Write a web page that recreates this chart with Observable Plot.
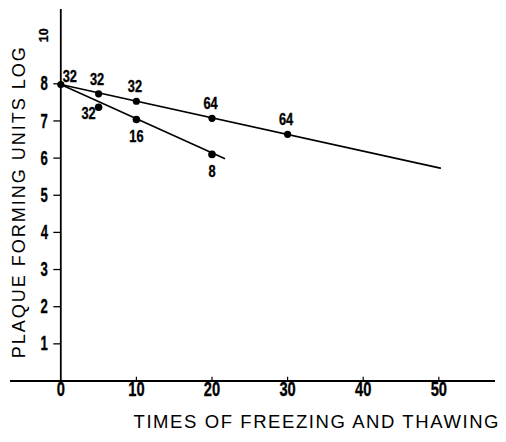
<!DOCTYPE html>
<html><head><meta charset="utf-8">
<script src="https://cdn.jsdelivr.net/npm/d3@7"></script>
<script src="https://cdn.jsdelivr.net/npm/@observablehq/plot@0.6"></script>
<style>html,body{margin:0;padding:0;background:#fff}</style>
</head><body><div id="chart"></div>
<script>
const xTicks = [0, 10, 20, 30, 40, 50];
const yTicks = [1, 2, 3, 4, 5, 6, 7, 8];
const upperTimes = [0, 5, 10, 20, 30];
const upperLog = [7.98, 7.73, 7.53, 7.07, 6.64];
const upperTiter = ["32", "32", "32", "64", "64"];
const lowerTimes = [5, 10, 20];
const lowerLog = [7.37, 7.04, 6.10];
const lowerTiter = ["32", "16", "8"];
const upperLineTimes = [0, 50.2];
const upperLineLog = [7.98, 5.73];
const lowerLineTimes = [0, 21.65];
const lowerLineLog = [7.98, 5.99];
const xTitle = "TIMES OF FREEZING AND THAWING";
const yTitle = "PLAQUE FORMING UNITS LOG";
const ySub = "10";
const xExtent = [-6.65, 57.5];
const yExtent = [0, 10];

const upper = upperTimes.map((t, i) => ({t, v: upperLog[i], lab: upperTiter[i]}));
const lower = lowerTimes.map((t, i) => ({t, v: lowerLog[i], lab: lowerTiter[i]}));
const upperLine = upperLineTimes.map((t, i) => ({t, v: upperLineLog[i]}));
const lowerLine = lowerLineTimes.map((t, i) => ({t, v: lowerLineLog[i]}));

const font = "'Liberation Sans', Arial, sans-serif";
const heavy = {fontWeight: "bold", fontFamily: font, fill: "#000", stroke: "#000", strokeWidth: 0.35};
const lab = {fontSize: 16, ...heavy};

const svg = Plot.plot({
  width: 506, height: 442,
  marginLeft: 60.3, marginRight: 11, marginTop: 9, marginBottom: 61.5,
  style: {background: "#fff", color: "#000", overflow: "visible", fontFamily: font},
  x: {domain: [0, xExtent[1]], axis: null},
  y: {domain: yExtent, axis: null},
  marks: [
    Plot.ruleY([0], {x1: xExtent[0], x2: xExtent[1], stroke: "#000", strokeWidth: 1.8}),
    Plot.ruleX([0], {y1: -0.06, y2: yExtent[1], stroke: "#000", strokeWidth: 1.8}),
    Plot.axisY({ticks: yTicks, tickFormat: () => "", tickSize: 7, tickPadding: 6, label: null, strokeWidth: 1.3}),
    Plot.text(yTicks, {y: d => d, frameAnchor: "left", textAnchor: "end", dx: -13,
      text: d => String(d), fontSize: 20.5, ...heavy}),
    Plot.text(xTicks, {x: d => d, frameAnchor: "bottom", lineAnchor: "top", dy: 0.5,
      text: d => String(d), fontSize: 21, ...heavy}),
    Plot.ruleX(xTicks.filter(d => d > 0), {y1: 0, y2: 0.1, stroke: "#000", strokeWidth: 1.2}),
    Plot.line(upperLine, {x: "t", y: "v", stroke: "#000", strokeWidth: 1.6}),
    Plot.line(lowerLine, {x: "t", y: "v", stroke: "#000", strokeWidth: 1.6}),
    Plot.dot(upper, {x: "t", y: "v", r: 3.6, fill: "#000", stroke: "none"}),
    Plot.dot(lower, {x: "t", y: "v", r: 3.8, fill: "#000", stroke: "none"}),
    Plot.text(upper, {filter: (d, i) => i === 0, x: "t", y: "v", text: "lab", dx: 9, dy: -8, ...lab}),
    Plot.text(upper, {filter: (d, i) => i > 0, x: "t", y: "v", text: "lab", dx: -1.5, dy: -14, ...lab}),
    Plot.text(lower, {filter: (d, i) => i === 0, x: "t", y: "v", text: "lab", dx: -10, dy: 7, ...lab}),
    Plot.text(lower, {filter: (d, i) => i > 0, x: "t", y: "v", text: "lab", dy: 17, ...lab}),
    Plot.text([xTitle], {frameAnchor: "bottom-right", textAnchor: "end", dx: 3, dy: 47,
      fontSize: 18.5, fontFamily: font, fill: "#000"}),
    Plot.text([yTitle], {frameAnchor: "left", rotate: -90, textAnchor: "middle", dx: -41.45, dy: 7.55,
      fontSize: 18, fontFamily: font, fill: "#000"}),
    Plot.text([ySub], {frameAnchor: "top-left", rotate: -90, textAnchor: "middle", dx: -22, dy: 25.8,
      fontSize: 12.5, ...heavy})
  ]
});

document.getElementById("chart").appendChild(svg);

// condensed, heavy lettering of the original
const box = svg.getBoundingClientRect();
for (const t of svg.querySelectorAll("text")) {
  const s = t.textContent;
  if (s === xTitle) { t.setAttribute("textLength", 365); t.setAttribute("lengthAdjust", "spacing"); continue; }
  if (s === yTitle) { t.setAttribute("textLength", 311); t.setAttribute("lengthAdjust", "spacing"); continue; }
  if (!/^\d+$/.test(s)) continue;
  const tr = t.getAttribute("transform") || "";
  if (tr.includes("rotate")) continue;
  const r = t.getBoundingClientRect();
  const cx0 = r.x - box.x + r.width / 2, cy0 = r.y - box.y + r.height / 2;
  const sx = cy0 > 381 ? 0.7 : cx0 < 55 ? 0.64 : 0.8;
  const b = t.getBBox();
  const anchor = getComputedStyle(t).textAnchor;
  const cx = anchor === "end" ? b.x + b.width : anchor === "start" ? b.x : b.x + b.width / 2;
  t.setAttribute("transform", `${tr} translate(${cx},0) scale(${sx},1) translate(${-cx},0)`);
}
</script>
</body></html>
